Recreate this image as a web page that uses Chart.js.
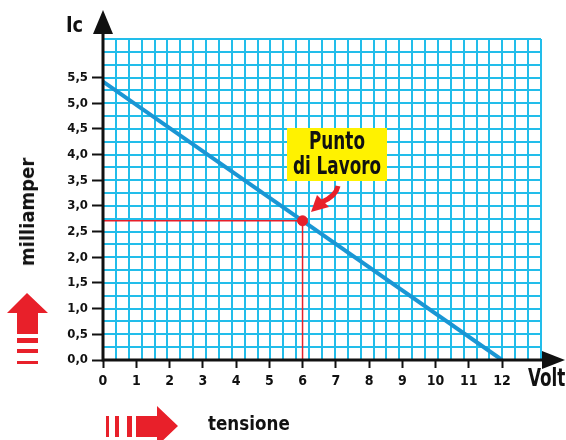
<!DOCTYPE html>
<html>
<head>
<meta charset="utf-8">
<script src="https://cdn.jsdelivr.net/npm/chart.js@4"></script>
<style>
  body { margin: 0; background: #fff; }
  #wrap { position: relative; width: 566px; height: 440px; font-family: 'Liberation Sans Narrow', 'DejaVu Sans Condensed', sans-serif; font-weight: bold; color: #111; overflow: hidden; }
  #wrap .lbl { position: absolute; white-space: nowrap; }
  #ic { left: 66px; top: 12px; font-size: 22px; transform: scaleX(0.9); transform-origin: left center; }
  #volt { left: 528px; top: 366px; font-size: 24px; line-height: 24px; transform: scaleX(0.78); transform-origin: left center; }
  #mA { left: 27px; top: 212px; font-size: 20px; transform: translate(-50%, -50%) rotate(-90deg); }
  #tens { left: 208px; top: 411px; font-size: 20px; transform: scaleX(0.93); transform-origin: left center; }
  #punto { left: 287px; top: 128px; width: 100px; height: 53px; background: #fff200; font-size: 24px; line-height: 25px; text-align: center; }
  #punto span { position: absolute; left: 50%; top: 1px; white-space: nowrap; transform: translateX(-50%) scaleX(0.78); }
</style>
</head>
<body>
<div id="wrap">
  <canvas id="chart" width="566" height="440"></canvas>
  <div class="lbl" id="ic">Ic</div>
  <div class="lbl" id="volt">Volt</div>
  <div class="lbl" id="mA">milliamper</div>
  <div class="lbl" id="tens">tensione</div>
  <div class="lbl" id="punto"><span>Punto<br>di Lavoro</span></div>
</div>
<script>
// load line: Ic (mA) against collector voltage (V)
const loadVolts = [0, 12];
const loadMilliamps = [5.42, 0];

// working point
const workVolts = [6];
const workMilliamps = [2.71];

// axis ticks
const xTickValues = [0, 1, 2, 3, 4, 5, 6, 7, 8, 9, 10, 11, 12];
const yTickValues = [0, 0.5, 1, 1.5, 2, 2.5, 3, 3.5, 4, 4.5, 5, 5.5];
const yTickLabels = ['0,0', '0,5', '1,0', '1,5', '2,0', '2,5', '3,0', '3,5', '4,0', '4,5', '5,0', '5,5'];

// graph paper
const gridColumns = 34;
const gridRowStep = 0.25;
const xMax = 13.17;
const yMax = 6.25;

const BLUE = '#1a96d4';
const CYAN = '#22bdea';
const RED = '#e8202a';

const labelFont = { family: "'Liberation Sans Narrow', 'DejaVu Sans Condensed', sans-serif", weight: 'bold' };

// axis lines, arrow heads and the red pointer arrows
const decorations = {
    id: 'decorations',
    afterDatasetsDraw(chart) {
        const ctx = chart.ctx;
        const a = chart.chartArea;
        ctx.save();
        ctx.fillStyle = '#111';
        ctx.strokeStyle = '#111';
        ctx.lineWidth = 3;
        ctx.beginPath();
        ctx.moveTo(a.left, a.bottom + 1.5);
        ctx.lineTo(a.left, 30);
        ctx.moveTo(a.left - 1.5, a.bottom);
        ctx.lineTo(545, a.bottom);
        ctx.stroke();
        // y arrow
        ctx.beginPath();
        ctx.moveTo(a.left, 10);
        ctx.lineTo(a.left + 10, 34);
        ctx.lineTo(a.left - 10, 34);
        ctx.closePath();
        ctx.fill();
        // x arrow
        ctx.beginPath();
        ctx.moveTo(565, a.bottom);
        ctx.lineTo(542, a.bottom - 9);
        ctx.lineTo(542, a.bottom + 9);
        ctx.closePath();
        ctx.fill();

        ctx.fillStyle = RED;
        // up arrow (current)
        ctx.beginPath();
        ctx.moveTo(27, 293);
        ctx.lineTo(48, 313);
        ctx.lineTo(38, 313);
        ctx.lineTo(38, 334);
        ctx.lineTo(17, 334);
        ctx.lineTo(17, 313);
        ctx.lineTo(7, 313);
        ctx.closePath();
        ctx.fill();
        ctx.fillRect(17, 338, 21, 5);
        ctx.fillRect(17, 349, 21, 4);
        ctx.fillRect(17, 361, 21, 3);
        // right arrow (voltage)
        ctx.beginPath();
        ctx.moveTo(178, 426);
        ctx.lineTo(157, 406);
        ctx.lineTo(157, 416);
        ctx.lineTo(136, 416);
        ctx.lineTo(136, 437);
        ctx.lineTo(157, 437);
        ctx.lineTo(157, 446);
        ctx.closePath();
        ctx.fill();
        ctx.fillRect(127, 416, 5, 21);
        ctx.fillRect(115, 416, 4, 21);
        ctx.fillRect(106, 416, 3, 21);
        // curved pointer to the working point
        ctx.strokeStyle = RED;
        ctx.lineWidth = 5;
        ctx.beginPath();
        ctx.moveTo(338, 186);
        ctx.quadraticCurveTo(336, 196, 322, 202);
        ctx.stroke();
        ctx.beginPath();
        ctx.moveTo(311, 212);
        ctx.lineTo(317, 195);
        ctx.lineTo(329, 207);
        ctx.closePath();
        ctx.fill();
        ctx.restore();
    }
};

new Chart(document.getElementById('chart'), {
    type: 'scatter',
    data: {
        datasets: [
            {
                label: 'guide',
                data: [
                    { x: 0, y: workMilliamps[0] },
                    { x: workVolts[0], y: workMilliamps[0] },
                    { x: workVolts[0], y: 0 }
                ],
                showLine: true,
                borderColor: RED,
                borderWidth: 1.5,
                pointRadius: 0,
                order: 3
            },
            {
                label: 'load line',
                data: loadVolts.map((v, i) => ({ x: v, y: loadMilliamps[i] })),
                showLine: true,
                borderColor: BLUE,
                borderWidth: 4,
                pointRadius: 0,
                order: 2
            },
            {
                label: 'working point',
                data: workVolts.map((v, i) => ({ x: v, y: workMilliamps[i] })),
                backgroundColor: RED,
                borderColor: RED,
                pointRadius: 5,
                order: 1
            }
        ]
    },
    options: {
        responsive: false,
        animation: false,
        devicePixelRatio: 1,
        layout: { padding: { top: 39, right: 25, left: 0, bottom: 0 } },
        plugins: { legend: { display: false }, tooltip: { enabled: false } },
        scales: {
            x: {
                type: 'linear',
                position: 'bottom',
                min: 0,
                max: xMax,
                afterBuildTicks: s => { s.ticks = xTickValues.map(v => ({ value: v })); },
                afterFit: s => { s.height = 80; },
                border: { display: false },
                grid: { drawOnChartArea: false, tickLength: 8, tickColor: '#111', tickWidth: 2 },
                ticks: { color: '#111', padding: 5, maxRotation: 0, font: { ...labelFont, size: 14 } }
            },
            y: {
                type: 'linear',
                position: 'left',
                min: 0,
                max: yMax,
                afterBuildTicks: s => { s.ticks = yTickValues.map(v => ({ value: v })); },
                afterFit: s => { s.width = 103; },
                border: { display: false },
                grid: { drawOnChartArea: false, tickLength: 11, tickColor: '#111', tickWidth: 2 },
                ticks: {
                    color: '#111',
                    padding: 4,
                    font: { ...labelFont, size: 13 },
                    callback: v => yTickLabels[yTickValues.indexOf(v)]
                }
            },
            xGrid: {
                type: 'linear',
                position: 'top',
                min: 0,
                max: gridColumns,
                afterFit: s => { s.height = 0; },
                border: { display: false },
                ticks: { display: false, stepSize: 1 },
                grid: { color: CYAN, lineWidth: 2, drawTicks: false }
            },
            yGrid: {
                type: 'linear',
                position: 'right',
                min: 0,
                max: yMax,
                afterFit: s => { s.width = 0; },
                border: { display: false },
                ticks: { display: false, stepSize: gridRowStep },
                grid: { color: CYAN, lineWidth: 2, drawTicks: false }
            }
        }
    },
    plugins: [decorations]
});
</script>
</body>
</html>
